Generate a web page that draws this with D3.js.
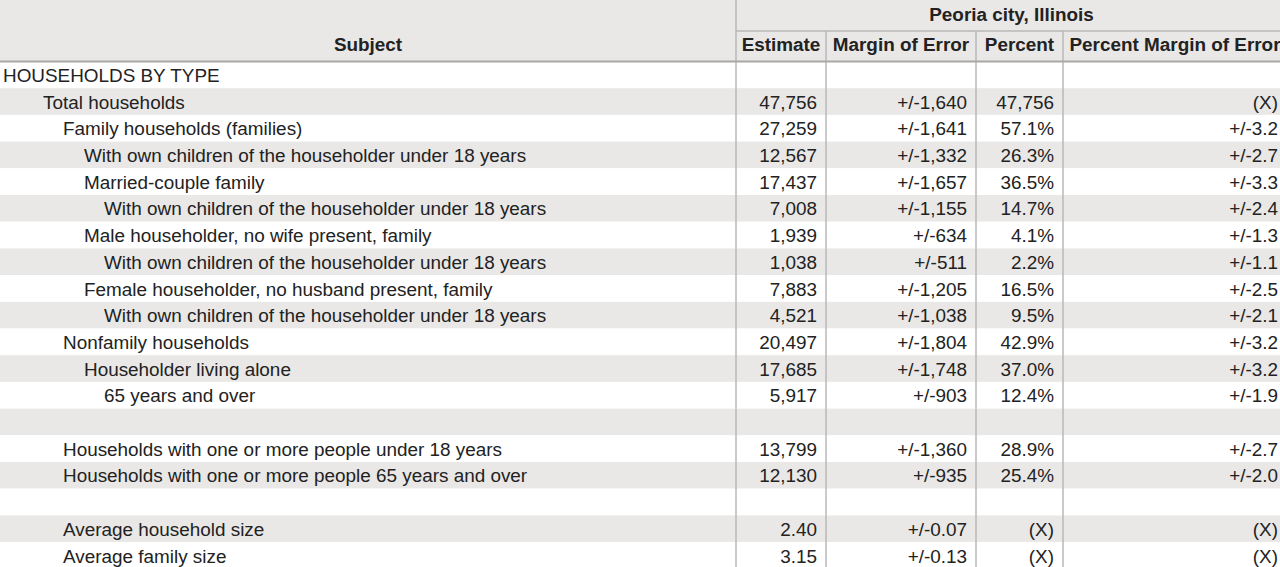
<!DOCTYPE html>
<html>
<head>
<meta charset="utf-8">
<script src="https://cdn.jsdelivr.net/npm/d3@7"></script>
<style>
  html, body { margin: 0; padding: 0; background: #fff; overflow: hidden; }
  svg { display: block; font-family: "Liberation Sans", Arial, sans-serif; }
</style>
</head>
<body>
<svg width="1280" height="567"></svg>
<script>
const geography = "Peoria city, Illinois";
const columns = ["Estimate", "Margin of Error", "Percent", "Percent Margin of Error"];

const subjects = [
  "HOUSEHOLDS BY TYPE",
  "Total households",
  "Family households (families)",
  "With own children of the householder under 18 years",
  "Married-couple family",
  "With own children of the householder under 18 years",
  "Male householder, no wife present, family",
  "With own children of the householder under 18 years",
  "Female householder, no husband present, family",
  "With own children of the householder under 18 years",
  "Nonfamily households",
  "Householder living alone",
  "65 years and over",
  "",
  "Households with one or more people under 18 years",
  "Households with one or more people 65 years and over",
  "",
  "Average household size",
  "Average family size"
];
const levels = [0, 1, 2, 3, 3, 4, 3, 4, 3, 4, 2, 3, 4, 0, 2, 2, 0, 2, 2];
const estimates = ["", "47,756", "27,259", "12,567", "17,437", "7,008", "1,939", "1,038", "7,883", "4,521",
  "20,497", "17,685", "5,917", "", "13,799", "12,130", "", "2.40", "3.15"];
const margins = ["", "+/-1,640", "+/-1,641", "+/-1,332", "+/-1,657", "+/-1,155", "+/-634", "+/-511", "+/-1,205", "+/-1,038",
  "+/-1,804", "+/-1,748", "+/-903", "", "+/-1,360", "+/-935", "", "+/-0.07", "+/-0.13"];
const percents = ["", "47,756", "57.1%", "26.3%", "36.5%", "14.7%", "4.1%", "2.2%", "16.5%", "9.5%",
  "42.9%", "37.0%", "12.4%", "", "28.9%", "25.4%", "", "(X)", "(X)"];
const percentMargins = ["", "(X)", "+/-3.2", "+/-2.7", "+/-3.3", "+/-2.4", "+/-1.3", "+/-1.1", "+/-2.5", "+/-2.1",
  "+/-3.2", "+/-3.2", "+/-1.9", "", "+/-2.7", "+/-2.0", "", "(X)", "(X)"];

const svg = d3.select("svg");
const fontSize = 18.9;
const textColor = "#222";
const shade = "#e9e8e6";
const lineColor = "#b8b8b8";

// column edges: subject | estimate | moe | percent | percent moe
const edges = [0, 736, 826, 976, 1063, 1287];
const headTop = 0, headMid = 31, headBottom = 61.5;
const rowH = 26.7;

const rows = subjects.map((s, i) => ({
  subject: s, level: levels[i],
  values: [estimates[i], margins[i], percents[i], percentMargins[i]]
}));

const y = d3.scaleBand()
  .domain(d3.range(rows.length))
  .range([headBottom, headBottom + rowH * rows.length]);
const indent = d3.scaleOrdinal().domain([0, 1, 2, 3, 4]).range([3, 43, 63, 84, 104]);
const mid = i => y(i) + y.bandwidth() / 2 + 0.5;

// header background
svg.append("rect")
  .attr("x", 0).attr("y", headTop)
  .attr("width", 1280).attr("height", headBottom)
  .attr("fill", shade);

// row stripes
svg.selectAll(".stripe")
  .data(rows)
  .enter().append("rect")
  .attr("class", "stripe")
  .attr("x", 0)
  .attr("y", (d, i) => y(i))
  .attr("width", 1280)
  .attr("height", y.bandwidth())
  .attr("fill", (d, i) => i % 2 === 1 ? shade : "#fff");

// header texts
svg.append("text")
  .attr("x", (edges[0] + edges[1]) / 2)
  .attr("y", 44)
  .attr("dy", "0.35em")
  .attr("text-anchor", "middle")
  .attr("font-weight", "bold")
  .attr("font-size", fontSize)
  .attr("fill", textColor)
  .text("Subject");

svg.append("text")
  .attr("x", (edges[1] + edges[5]) / 2)
  .attr("y", 14)
  .attr("dy", "0.35em")
  .attr("text-anchor", "middle")
  .attr("font-weight", "bold")
  .attr("font-size", fontSize)
  .attr("fill", textColor)
  .text(geography);

svg.selectAll(".colhead")
  .data(columns)
  .enter().append("text")
  .attr("class", "colhead")
  .attr("x", (d, i) => (edges[i + 1] + edges[i + 2]) / 2)
  .attr("y", 44)
  .attr("dy", "0.35em")
  .attr("text-anchor", "middle")
  .attr("font-weight", "bold")
  .attr("font-size", fontSize)
  .attr("fill", textColor)
  .text(d => d);

// grid lines
const bottom = y.range()[1];
svg.append("line")
  .attr("x1", edges[1]).attr("x2", 1280)
  .attr("y1", headMid).attr("y2", headMid)
  .attr("stroke", lineColor).attr("stroke-width", 1.5);

svg.selectAll(".vline")
  .data(edges.slice(2, 5))
  .enter().append("line")
  .attr("class", "vline")
  .attr("x1", d => d).attr("x2", d => d)
  .attr("y1", headMid).attr("y2", bottom)
  .attr("stroke", lineColor).attr("stroke-width", 1.5);

svg.append("line")
  .attr("x1", edges[1]).attr("x2", edges[1])
  .attr("y1", headTop).attr("y2", bottom)
  .attr("stroke", lineColor).attr("stroke-width", 1.5);

svg.append("line")
  .attr("x1", 0).attr("x2", 1280)
  .attr("y1", headBottom).attr("y2", headBottom)
  .attr("stroke", "#a8a8a8").attr("stroke-width", 2);

// subject labels
svg.selectAll(".subject")
  .data(rows)
  .enter().append("text")
  .attr("class", "subject")
  .attr("x", d => indent(d.level))
  .attr("y", (d, i) => mid(i))
  .attr("dy", "0.35em")
  .attr("font-size", fontSize)
  .attr("fill", textColor)
  .text(d => d.subject);

// value cells, right aligned
const rowG = svg.selectAll(".row")
  .data(rows)
  .enter().append("g")
  .attr("class", "row")
  .attr("transform", (d, i) => `translate(0,${mid(i)})`);

rowG.selectAll("text")
  .data(d => d.values)
  .enter().append("text")
  .attr("x", (d, j) => edges[j + 2] - 9)
  .attr("dy", "0.35em")
  .attr("text-anchor", "end")
  .attr("font-size", fontSize)
  .attr("fill", textColor)
  .text(d => d);
</script>
</body>
</html>
